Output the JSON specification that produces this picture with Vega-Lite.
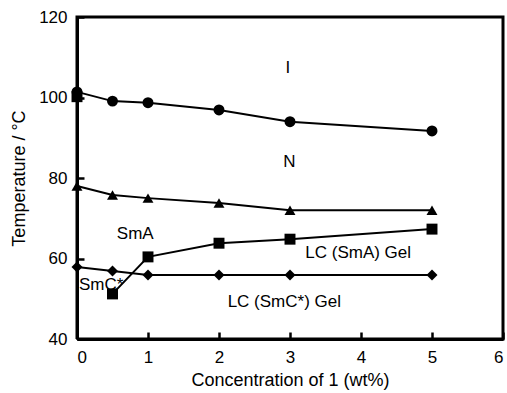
{
  "$schema": "https://vega.github.io/schema/vega-lite/v6.json",
  "width": 426,
  "height": 322,
  "autosize": "none",
  "padding": {"left": 77, "top": 17, "right": 4, "bottom": 54},
  "background": "white",
  "view": {"stroke": null},
  "config": {
    "font": "Liberation Sans",
    "axis": {"grid": false}
  },
  "datasets": {
    "frame": [
      {"i": 0, "x": 0, "y": 40},
      {"i": 1, "x": 0, "y": 120},
      {"i": 2, "x": 6, "y": 120},
      {"i": 3, "x": 6, "y": 40},
      {"i": 4, "x": 0, "y": 40}
    ],
    "pts": [
      {"series": "I-N", "x": 0, "y": 101.4},
      {"series": "I-N", "x": 0.5, "y": 99.1},
      {"series": "I-N", "x": 1, "y": 98.7},
      {"series": "I-N", "x": 2, "y": 96.9},
      {"series": "I-N", "x": 3, "y": 94.0},
      {"series": "I-N", "x": 5, "y": 91.7},
      {"series": "N-SmA", "x": 0, "y": 78.0},
      {"series": "N-SmA", "x": 0.5, "y": 75.8},
      {"series": "N-SmA", "x": 1, "y": 75.0},
      {"series": "N-SmA", "x": 2, "y": 73.8},
      {"series": "N-SmA", "x": 3, "y": 72.0},
      {"series": "N-SmA", "x": 5, "y": 72.0},
      {"series": "SmA-Gel", "x": 0, "y": 100.2},
      {"series": "SmA-Gel", "x": 0.5, "y": 51.2},
      {"series": "SmA-Gel", "x": 1, "y": 60.4},
      {"series": "SmA-Gel", "x": 2, "y": 63.8},
      {"series": "SmA-Gel", "x": 3, "y": 64.8},
      {"series": "SmA-Gel", "x": 5, "y": 67.3},
      {"series": "SmC*-Gel", "x": 0, "y": 57.9},
      {"series": "SmC*-Gel", "x": 0.5, "y": 56.9},
      {"series": "SmC*-Gel", "x": 1, "y": 55.9},
      {"series": "SmC*-Gel", "x": 2, "y": 55.9},
      {"series": "SmC*-Gel", "x": 3, "y": 55.9},
      {"series": "SmC*-Gel", "x": 5, "y": 55.9}
    ],
    "labels": [
      {"text": "I", "x": 2.97, "y": 107.3},
      {"text": "N", "x": 2.99, "y": 84},
      {"text": "SmA", "x": 0.82, "y": 66},
      {"text": "SmC*", "x": 0.34, "y": 53.4},
      {"text": "LC (SmA) Gel", "x": 3.96, "y": 61.4},
      {"text": "LC (SmC*) Gel", "x": 2.92, "y": 49.2}
    ]
  },
  "encoding": {
    "x": {"field": "x", "type": "quantitative", "scale": {"domain": [0, 6], "nice": false, "zero": false}, "title": "Concentration of 1  (wt%)",
      "axis": {"values": [0, 1, 2, 3, 4, 5, 6], "format": "d", "labelPadding": 17, "titlePadding": 6,
        "domainColor": "black", "domainWidth": 3,
        "tickColor": "black", "tickWidth": 2.5, "tickSize": -7,
        "labelColor": "black", "labelFontSize": 17, "labelFont": "Liberation Sans",
        "titleColor": "black", "titleFontSize": 18, "titleFontWeight": "normal", "titleFont": "Liberation Sans"}},
    "y": {"field": "y", "type": "quantitative", "scale": {"domain": [40, 120], "nice": false, "zero": false}, "title": "Temperature / °C",
      "axis": {"values": [40, 60, 80, 100, 120], "format": "d", "labelPadding": 17, "titlePadding": 10,
        "domainColor": "black", "domainWidth": 3,
        "tickColor": "black", "tickWidth": 2.5, "tickSize": -7,
        "labelColor": "black", "labelFontSize": 17, "labelFont": "Liberation Sans",
        "titleColor": "black", "titleFontSize": 18, "titleFontWeight": "normal", "titleFont": "Liberation Sans"}}
  },
  "layer": [
    {
      "data": {"name": "frame"},
      "mark": {"type": "line", "color": "black", "strokeWidth": 3, "clip": false},
      "encoding": {"order": {"field": "i", "type": "quantitative"}}
    },
    {
      "data": {"name": "labels"},
      "mark": {"type": "text", "fontSize": 17, "color": "black", "font": "Liberation Sans"},
      "encoding": {"text": {"field": "text"}}
    },
    {
      "data": {"name": "pts"},
      "transform": [{"filter": "!(datum.series == 'SmA-Gel' && datum.x == 0)"}],
      "mark": {"type": "line", "color": "black", "strokeWidth": 2},
      "encoding": {"detail": {"field": "series"}}
    },
    {
      "data": {"name": "pts"},
      "mark": {"type": "point", "filled": true, "color": "black", "opacity": 1, "size": 120},
      "encoding": {
        "shape": {"field": "series", "type": "nominal", "legend": null,
          "scale": {"domain": ["I-N", "N-SmA", "SmA-Gel", "SmC*-Gel"], "range": ["circle", "triangle-up", "square", "diamond"]}}
      }
    }
  ]
}
